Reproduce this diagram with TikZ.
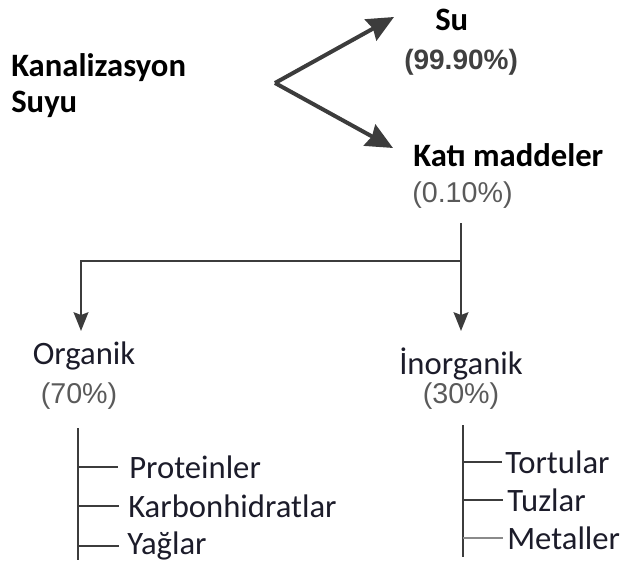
\documentclass[tikz,border=0pt]{standalone}
\usepackage{fontspec}
\setmainfont{Carlito}
\newfontfamily\arialfont{Liberation Sans}
\usetikzlibrary{positioning, arrows.meta, calc}
\definecolor{inktext}{HTML}{1C1C2A}
\definecolor{pctgray}{HTML}{5A5A5A}
\definecolor{linegray}{HTML}{3C3C3C}

\begin{document}
\begin{tikzpicture}[
    x=0.75pt, y=-0.75pt,
    title/.style={font=\fontsize{24.5}{28}\selectfont\bfseries, text=black, anchor=west, inner sep=0pt},
    pct/.style={font=\arialfont\fontsize{21.5}{25}\selectfont, text=pctgray, inner sep=0pt},
    boldpct/.style={pct, font=\arialfont\fontsize{21}{25}\selectfont\bfseries, text=black!75},
    group/.style={font=\fontsize{24.5}{28}\selectfont, text=inktext, inner sep=0pt},
    item/.style={font=\fontsize{24.5}{28}\selectfont, text=inktext, anchor=west, inner sep=0pt},
    bigarrow/.style={line width=3pt, draw=linegray, -{Stealth[length=20pt, width=18pt, inset=2pt]}},
    flow/.style={line width=2pt, draw=linegray, -{Stealth[length=14pt, width=11pt, inset=2pt]}},
    bus/.style={line width=2pt, draw=linegray},
    tree/.style={line width=2pt, draw=linegray}
]
\useasboundingbox (0,0) rectangle (623,567);

% --- KNOTEN ---
\node[title] (kanal) at (11,68) {Kanalizasyon};
\node[title] (suyu) at (11,104) {Suyu};

\node[title] (su) at (435,20) {Su};
\node[boldpct, anchor=west] (suPct) at (404,62) {(99.90\%)};
\node[title] (kati) at (413,155) {Katı maddeler};
\node[pct, anchor=west] (katiPct) at (412,195) {(0.10\%)};

\node[group] (organik) at (84,356) {Organik};
\node[pct] (orgPct) at (79,396) {(70\%)};
\node[group] (inorganik) at (461,364) {İnorganik};
\node[pct] (inorgPct) at (461,396) {(30\%)};

\node[item] (prot) at (129,467) {Proteinler};
\node[item] (karb) at (128,506) {Karbonhidratlar};
\node[item] (yag) at (127,546) {Yağlar};

\node[item] (tort) at (505,462) {Tortular};
\node[item] (tuz) at (507,500) {Tuzlar};
\node[item] (metal) at (507,538) {Metaller};

% Hilfskoordinaten fuer Pfeile und Verzweigungen
\coordinate (split) at (275,83);
\coordinate (suIn) at (394,17);
\coordinate (katiIn) at (393,148);
\coordinate (drop) at (461,223);
\coordinate (busR) at (461,261);
\coordinate (busL) at (81,261);
\coordinate (orgIn) at (81,331);
\coordinate (inorgIn) at (461,331);
\coordinate (orgTop) at (78,428);
\coordinate (orgBot) at (78,560);
\coordinate (inorgTop) at (463,425);
\coordinate (inorgBot) at (463,557);

% --- KANTEN ---

% 1. Aufteilung des Abwassers
\draw[bigarrow] (split) -- (suIn);
\draw[bigarrow] (split) -- (katiIn);

% 2. Feststoffe: organisch / anorganisch
\draw[bus] (drop) -- (busR);
\draw[flow] (busR) -- (busL) -- (orgIn);
\draw[flow] (busR) -- (inorgIn);

% 3. Bestandteile
\draw[tree] (orgTop) -- (orgBot);
\draw[tree] (orgTop |- prot) -- ([xshift=-8pt]prot.west);
\draw[tree] (orgTop |- karb) -- ([xshift=-7pt]karb.west);
\draw[tree] (orgTop |- yag) -- ([xshift=-6pt]yag.west);

\draw[tree] (inorgTop) -- (inorgBot);
\draw[tree] (inorgTop |- tort) -- ([xshift=-2pt]tort.west);
\draw[tree] (inorgTop |- tuz) -- ([xshift=-3pt]tuz.west);
\draw[tree, draw=linegray!60] (inorgTop |- metal) -- ([xshift=-3pt]metal.west);

\end{tikzpicture}
\end{document}
